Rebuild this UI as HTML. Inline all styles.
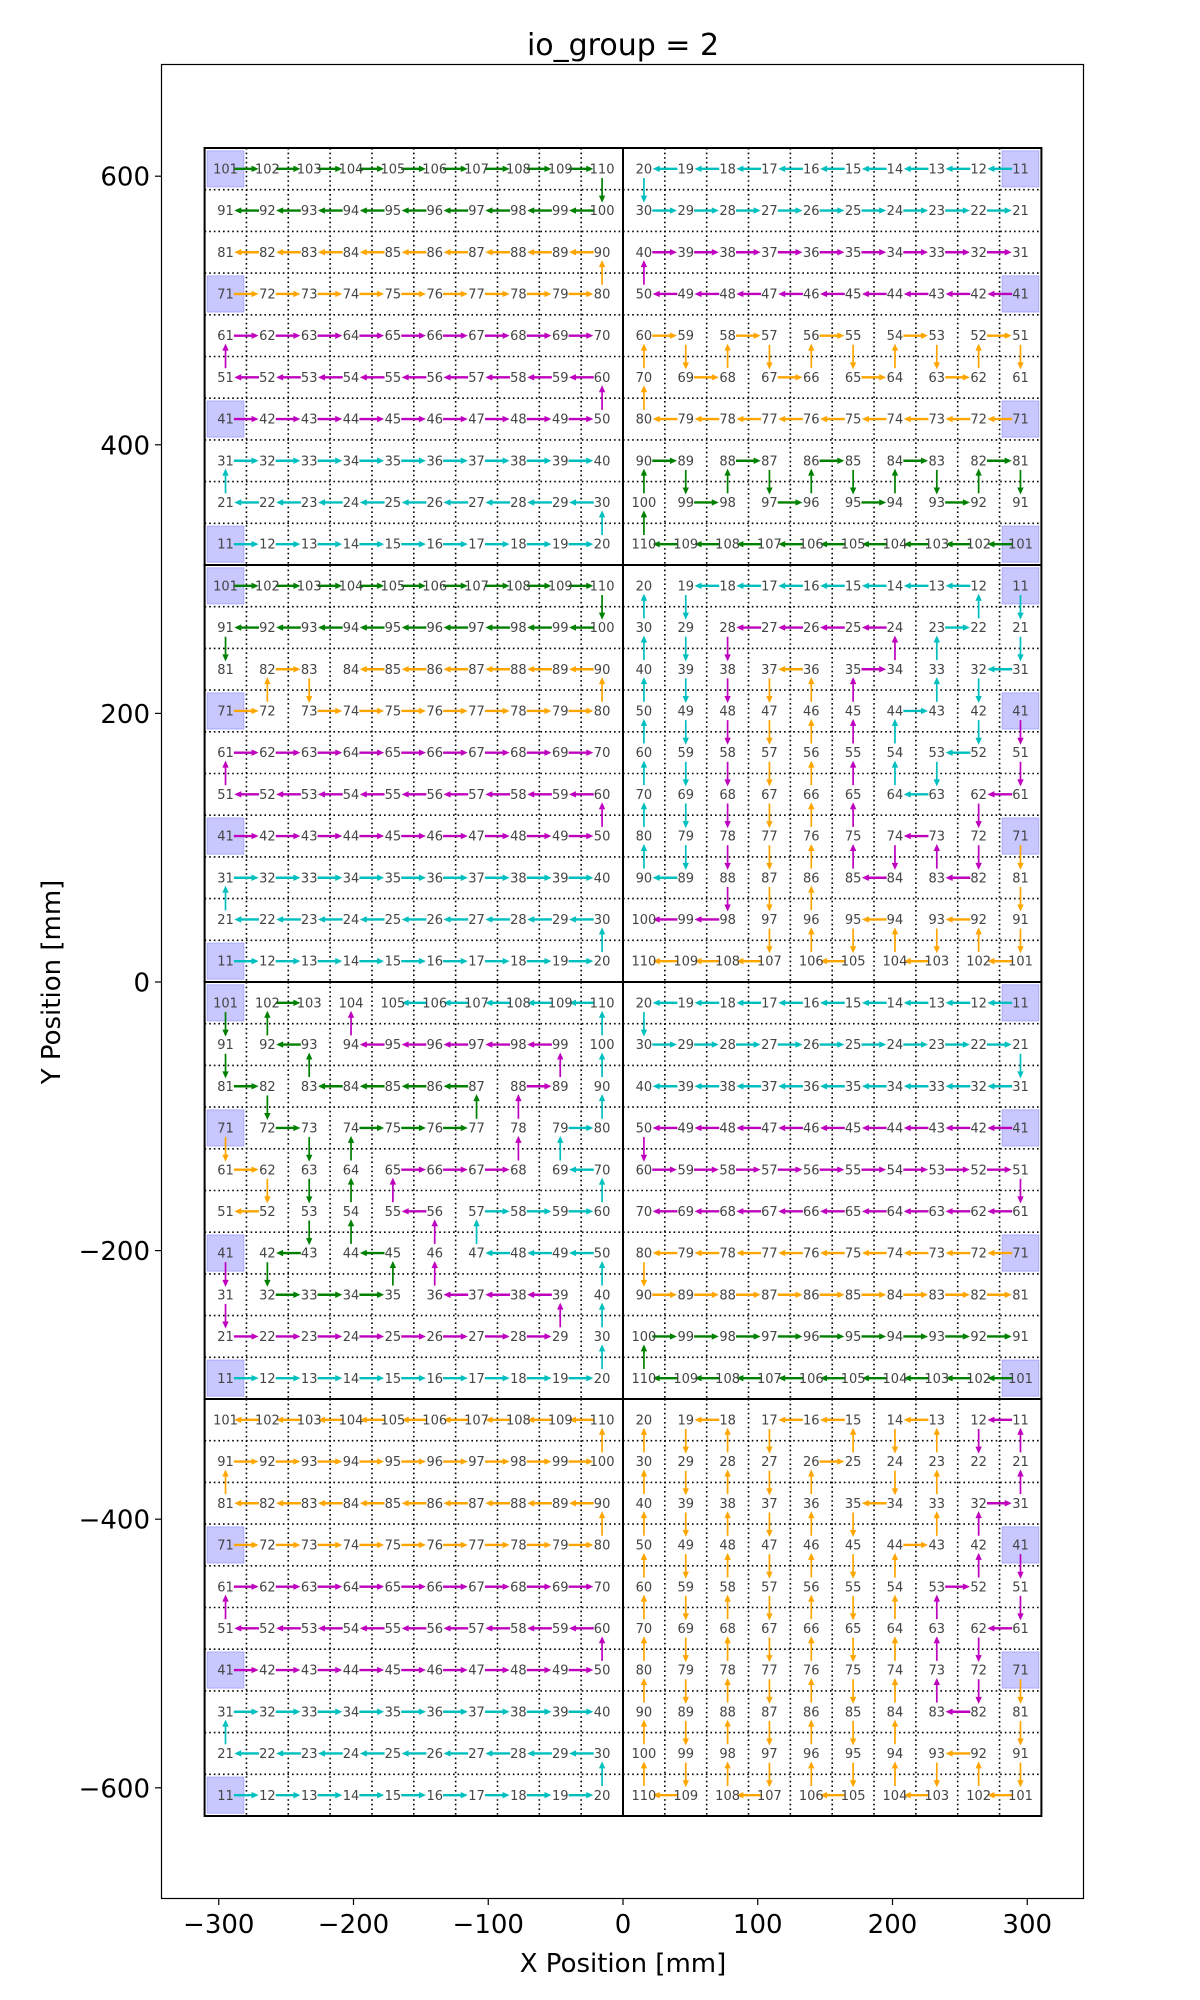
<!DOCTYPE html>
<html><head><meta charset="utf-8"><style>
html,body{margin:0;padding:0;background:#fff;}
svg{display:block;font-family:"DejaVu Sans","Liberation Sans",sans-serif;}
</style></head><body>
<svg id="chart" width="1200" height="2000" viewBox="0 0 1200 2000" xmlns="http://www.w3.org/2000/svg">
<text x="623" y="55" font-size="30" text-anchor="middle" fill="#000">io_group = 2</text>
<rect x="161.5" y="64.5" width="922" height="1834" fill="none" stroke="#000" stroke-width="1.2"/>
<g id="grid"></g><g id="boxes"></g><g id="borders"></g><g id="arrows"></g><g id="labels"></g><g id="axes"></g>
<text x="623" y="1972" font-size="26" text-anchor="middle" fill="#000">X Position [mm]</text>
<text transform="translate(60,982) rotate(-90)" font-size="26" text-anchor="middle" fill="#000">Y Position [mm]</text>
</svg>
<script>
const xTicks = [-300,-200,-100,0,100,200,300];
const yTicks = [-600,-400,-200,0,200,400,600];
const tileRows = [0,0,1,1,2,2,3,3];
const tileCols = ['L','R','L','R','L','R','L','R'];
const shaded = [[101,71,41,11],[11,41,71,101],[101,71,41,11],[11,41,71],[101,71,41,11],[11,41,71,101],[71,41,11],[41,71]];
const greenPaths = [
 [[101,102,103,104,105,106,107,108,109,110,100,99,98,97,96,95,94,93,92,91]],
 [[101,102,103,104,105,106,107,108,109,110,100,90,89,99,98,88,87,97,96,86,85,95,94,84,83,93,92,82,81,91]],
 [[101,102,103,104,105,106,107,108,109,110,100,99,98,97,96,95,94,93,92,91,81]],
 [],
 [[101,91,81,82,72,73,63,53,43,42,32,33,34,35,45,44,54,64,74,75,76,77,87,86,85,84,83,93,92,102,103]],
 [[101,102,103,104,105,106,107,108,109,110,100,99,98,97,96,95,94,93,92,91]],
 [],
 []
];
const orangePaths = [
 [[71,72,73,74,75,76,77,78,79,80,90,89,88,87,86,85,84,83,82,81]],
 [[71,72,73,74,75,76,77,78,79,80,70,60,59,69,68,58,57,67,66,56,55,65,64,54,53,63,62,52,51,61]],
 [[71,72,82,83,73,74,75,76,77,78,79,80,90,89,88,87,86,85,84]],
 [[71,81,91,101,102,92,93,103,104,94,95,105,106,96,86,76,66,56,46,36,37,47,57,67,77,87,97,107,108,109,110]],
 [[71,61,62,52,51]],
 [[71,72,73,74,75,76,77,78,79,80,90,89,88,87,86,85,84,83,82,81]],
 [[71,72,73,74,75,76,77,78,79,80,90,89,88,87,86,85,84,83,82,81,91,92,93,94,95,96,97,98,99,100,110,109,108,107,106,105,104,103,102,101]],
 [[71,81,91,101,102,92,93,103,104,94,84,74,64,54,44,43,33,23,13,14,24,34,35,45,55,65,75,85,95,105,106,96,86,76,66,56,46,36,26,25,15,16,17,27,37,47,57,67,77,87,97,107,108,98,88,78,68,58,48,38,28,18,19,29,39,49,59,69,79,89,99,109,110,100,90,80,70,60,50,40,30,20]]
];
const magentaPaths = [
 [[41,42,43,44,45,46,47,48,49,50,60,59,58,57,56,55,54,53,52,51,61,62,63,64,65,66,67,68,69,70]],
 [[41,42,43,44,45,46,47,48,49,50,40,39,38,37,36,35,34,33,32,31]],
 [[41,42,43,44,45,46,47,48,49,50,60,59,58,57,56,55,54,53,52,51,61,62,63,64,65,66,67,68,69,70]],
 [[41,51,61,62,72,82,83,73,74,84,85,75,65,55,45,35,34,24,25,26,27,28,38,48,58,68,78,88,98,99,100]],
 [[41,31,21,22,23,24,25,26,27,28,29,39,38,37,36,46,56,55,65,66,67,68,78,88,89,99,98,97,96,95,94,104]],
 [[41,42,43,44,45,46,47,48,49,50,60,59,58,57,56,55,54,53,52,51,61,62,63,64,65,66,67,68,69,70]],
 [[41,42,43,44,45,46,47,48,49,50,60,59,58,57,56,55,54,53,52,51,61,62,63,64,65,66,67,68,69,70]],
 [[11,12,22],[41,51,61,62,72,82,83,73,63,53,52,42,32,31,21,11]]
];
const cyanPaths = [
 [[11,12,13,14,15,16,17,18,19,20,30,29,28,27,26,25,24,23,22,21,31,32,33,34,35,36,37,38,39,40]],
 [[11,12,13,14,15,16,17,18,19,20,30,29,28,27,26,25,24,23,22,21]],
 [[11,12,13,14,15,16,17,18,19,20,30,29,28,27,26,25,24,23,22,21,31,32,33,34,35,36,37,38,39,40]],
 [[11,21,31,32,42,52,53,63,64,54,44,43,33,23,22,12,13,14,15,16,17,18,19,29,39,49,59,69,79,89,90,80,70,60,50,40,30,20]],
 [[11,12,13,14,15,16,17,18,19,20,30,40,50,49,48,47,57,58,59,60,70,69,79,80,90,100,110,109,108,107,106,105]],
 [[11,12,13,14,15,16,17,18,19,20,30,29,28,27,26,25,24,23,22,21,31,32,33,34,35,36,37,38,39,40]],
 [[11,12,13,14,15,16,17,18,19,20,30,29,28,27,26,25,24,23,22,21,31,32,33,34,35,36,37,38,39,40]],
 []
];
const seriesColors = {green:'#008000', orange:'#ffa500', magenta:'#bf00bf', cyan:'#00bfbf'};

const NS='http://www.w3.org/2000/svg';
const X0=623, SX=1.3475, Y0=982, SY=1.343, TILE=310.5, CELL=TILE/10;
const xs=v=>X0+v*SX, ys=v=>Y0-v*SY;
function mk(tag,attrs,parent){const e=document.createElementNS(NS,tag);for(const k in attrs)e.setAttribute(k,attrs[k]);parent.appendChild(e);return e;}
const gGrid=document.getElementById('grid'),gBox=document.getElementById('boxes'),gBor=document.getElementById('borders'),gArr=document.getElementById('arrows'),gLab=document.getElementById('labels'),gAx=document.getElementById('axes');

function chipCenter(t,n){
  const r=tileRows[t], c=tileCols[t];
  const q=Math.floor((n-11)/10), m=(n-11)%10;
  let k,j;
  if(c==='L'){k=9-q;j=m;}else{k=q;j=9-m;}
  const tx=(c==='L')?-TILE:0, ty=2*TILE-r*TILE;
  return [xs(tx+(j+0.5)*CELL), ys(ty-(k+0.5)*CELL)];
}

for(let t=0;t<8;t++){
  const r=tileRows[t], c=tileCols[t];
  const tx=(c==='L')?-TILE:0, ty=2*TILE-r*TILE;
  for(let i=1;i<10;i++){
    const l1=mk('line',{x1:xs(tx+i*CELL),x2:xs(tx+i*CELL),y1:ys(ty),y2:ys(ty-TILE),stroke:'#000','stroke-width':1.6,'stroke-dasharray':'1.6,3'},gGrid);
    
    
    const l2=mk('line',{y1:ys(ty-i*CELL),y2:ys(ty-i*CELL),x1:xs(tx),x2:xs(tx+TILE),stroke:'#000','stroke-width':1.6,'stroke-dasharray':'1.6,3'},gGrid);
    
    
  }
  const br=mk('rect',{x:xs(tx),y:ys(ty),width:TILE*SX,height:TILE*SY,fill:'none',stroke:'#000','stroke-width':2},gBor);
  
  
  shaded[t].forEach(n=>{
    const [cx,cy]=chipCenter(t,n);
    const b=mk('rect',{x:cx-18.3,y:cy-18,width:36.6,height:36,fill:'#c8c8ff',stroke:'#aaaaff','stroke-width':1},gBox);
    
    
  });
  for(let n=11;n<=110;n++){
    const [cx,cy]=chipCenter(t,n);
    const tx2=mk('text',{x:cx,y:cy+4.6,'font-size':13,'text-anchor':'middle',fill:'#444'},gLab);
    tx2.textContent=n;
    
    
  }
  const groups=[['green',greenPaths],['orange',orangePaths],['magenta',magentaPaths],['cyan',cyanPaths]];
  groups.forEach(([name,arr])=>{
    arr[t].forEach(path=>{
      for(let i=0;i<path.length-1;i++) drawArrow(t,path[i],path[i+1],seriesColors[name]);
    });
  });
}
function drawArrow(t,a,b,col){
  const [ax,ay]=chipCenter(t,a),[bx,by]=chipCenter(t,b);
  const dx=bx-ax,dy=by-ay,L=Math.hypot(dx,dy),ux=dx/L,uy=dy/L;
  const horiz=Math.abs(dx)>Math.abs(dy);
  const s0=horiz?0.2:0.22, s1=horiz?0.79:0.81;
  const sx=ax+dx*s0,sy=ay+dy*s0,ex=ax+dx*s1,ey=ay+dy*s1;
  const hl=7,hw=3.2;
  const g=mk('g',{},gArr);
  
  
  mk('line',{x1:sx,y1:sy,x2:ex-ux*hl*0.6,y2:ey-uy*hl*0.6,stroke:col,'stroke-width':horiz?2.4:1.7},g);
  const px=-uy,py=ux;
  mk('polygon',{points:`${ex},${ey} ${ex-ux*hl+px*hw},${ey-uy*hl+py*hw} ${ex-ux*hl-px*hw},${ey-uy*hl-py*hw}`,fill:col},g);
}
xTicks.forEach(v=>{
  const x=xs(v);
  const l=mk('line',{x1:x,x2:x,y1:1899,y2:1905,stroke:'#000','stroke-width':1.2},gAx);
  
  
  const t=mk('text',{x:x,y:1933,'font-size':26,'text-anchor':'middle',fill:'#000'},gAx);
  t.textContent=(v<0?'\u2212':'')+Math.abs(v);
  
  
});
yTicks.forEach(v=>{
  const y=ys(v);
  const l=mk('line',{x1:155,x2:161.5,y1:y,y2:y,stroke:'#000','stroke-width':1.2},gAx);
  
  
  const t=mk('text',{x:150,y:y+9.5,'font-size':26,'text-anchor':'end',fill:'#000'},gAx);
  t.textContent=(v<0?'\u2212':'')+Math.abs(v);
  
  
});
</script>
</body></html>
